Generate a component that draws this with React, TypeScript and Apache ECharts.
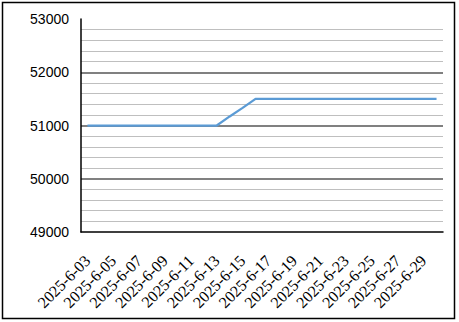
import React, { useEffect, useRef } from "react";
import * as echarts from "echarts";

const dates: string[] = [
  "2025-6-03", "2025-6-04", "2025-6-05", "2025-6-06", "2025-6-07", "2025-6-08", "2025-6-09",
  "2025-6-10", "2025-6-11", "2025-6-12", "2025-6-13", "2025-6-14", "2025-6-15", "2025-6-16",
  "2025-6-17", "2025-6-18", "2025-6-19", "2025-6-20", "2025-6-21", "2025-6-22", "2025-6-23",
  "2025-6-24", "2025-6-25", "2025-6-26", "2025-6-27", "2025-6-28", "2025-6-29", "2025-6-30",
];

const prices: number[] = [
  51000, 51000, 51000, 51000, 51000, 51000, 51000,
  51000, 51000, 51000, 51000, 51170, 51330, 51500,
  51500, 51500, 51500, 51500, 51500, 51500, 51500,
  51500, 51500, 51500, 51500, 51500, 51500, 51500,
];

const yMin = 49000;
const yMax = 53000;
const yStep = 1000;

export default function App() {
  const ref = useRef<HTMLDivElement>(null);
  useEffect(() => {
    if (!ref.current) return;
    const chart = echarts.init(ref.current, null, { renderer: "svg" });
    chart.setOption({
      animation: false,
      backgroundColor: "#ffffff",
      grid: { left: 81, right: 16, top: 19, bottom: 90, containLabel: false },
      graphic: [
        {
          type: "rect",
          shape: { x: 2.5, y: 2.5, width: 452, height: 316 },
          style: { fill: "none", stroke: "#000000", lineWidth: 1.5 },
          silent: true,
        },
      ],
      xAxis: {
        type: "category",
        data: dates,
        boundaryGap: true,
        axisLine: { show: true, lineStyle: { color: "#000000", width: 1.5 } },
        axisTick: { show: false },
        axisLabel: {
          interval: 1,
          rotate: 45,
          margin: 26,
          color: "#000000",
          fontFamily: "'Liberation Serif', 'Times New Roman', serif",
          fontSize: 16,
        },
        splitLine: { show: false },
      },
      yAxis: {
        type: "value",
        min: yMin,
        max: yMax,
        interval: yStep,
        axisLine: { show: true, lineStyle: { color: "#000000", width: 1.5 } },
        axisTick: { show: false },
        axisLabel: {
          margin: 12,
          color: "#000000",
          fontFamily: "'Liberation Sans', Arial, sans-serif",
          fontSize: 14,
          formatter: (v: number) => String(v),
        },
        splitLine: {
          show: true,
          showMinLine: false,
          showMaxLine: false,
          lineStyle: { color: "#808080", width: 2 },
        },
        minorTick: { show: false, splitNumber: 5 },
        minorSplitLine: { show: true, lineStyle: { color: "#bfbfbf", width: 1 } },
      },
      series: [
        {
          type: "line",
          data: prices,
          showSymbol: false,
          symbol: "none",
          lineStyle: { color: "#5b9bd5", width: 2.25 },
        },
      ],
    });
    return () => chart.dispose();
  }, []);
  return (
    <div style={{ position: "absolute", left: 0, top: 0, width: 459, height: 322 }}>
      <div ref={ref} style={{ width: 459, height: 322 }} />
    </div>
  );
}
